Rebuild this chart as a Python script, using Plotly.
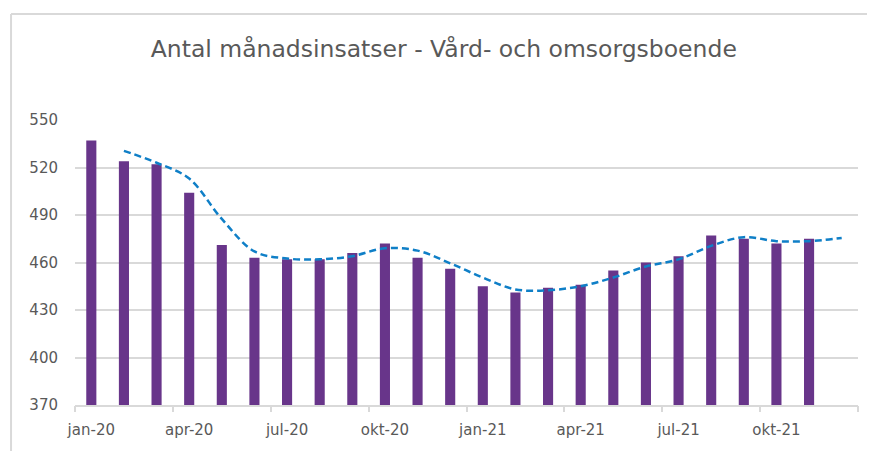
import plotly.graph_objects as go

months = [
    "jan-20", "feb-20", "mar-20", "apr-20", "maj-20", "jun-20",
    "jul-20", "aug-20", "sep-20", "okt-20", "nov-20", "dec-20",
    "jan-21", "feb-21", "mar-21", "apr-21", "maj-21", "jun-21",
    "jul-21", "aug-21", "sep-21", "okt-21", "nov-21", "dec-21",
]
insatser = [537, 524, 522, 504, 471, 463, 462, 462, 466, 472, 463, 456,
            445, 441, 444, 446, 455, 460, 464, 477, 475, 472, 475]
trend = [530.5, 523, 513, 487.5, 467, 462.5, 462, 464, 469, 467.5, 459.5,
         450.5, 443, 442.5, 445, 450.5, 457.5, 462, 470.5, 476, 473.5, 473.5, 475.5]
label_months = ["jan-20", "apr-20", "jul-20", "okt-20", "jan-21", "apr-21", "jul-21", "okt-21"]
y_ticks = [370, 400, 430, 460, 490, 520, 550]

FONT = "DejaVu Sans"
TEXT = "#595959"
GRID = "#d9d9d9"

fig = go.Figure()
fig.add_trace(go.Bar(x=months[:len(insatser)], y=insatser, marker_color="#68358a",
                     marker_line_width=0, name="Antal"))
fig.add_trace(go.Scatter(x=months[1:1 + len(trend)], y=trend, mode="lines",
                         line=dict(color="#0f7fc7", width=2.5, dash="7px,4px", shape="spline"),
                         name="trend"))
# empty helper trace so the tick-mark axis (boundaries every quarter) gets drawn
fig.add_trace(go.Scatter(x=[None], y=[None], xaxis="x2", mode="lines",
                         hoverinfo="skip", showlegend=False))

# page body adds an 8px offset, so the figure is laid out 8px smaller
fig.update_layout(
    width=867, height=443,
    margin=dict(l=67, r=17, t=112, b=43),
    paper_bgcolor="white", plot_bgcolor="white",
    showlegend=False,
    bargap=0.69,
    font=dict(family=FONT, color=TEXT, size=15),
    title=dict(text="Antal månadsinsatser - Vård- och omsorgsboende",
               x=0.471, xref="paper", xanchor="center", y=0.907, yanchor="middle",
               font=dict(family=FONT, size=23.5, color=TEXT)),
    xaxis=dict(type="category", categoryorder="array", categoryarray=months,
               range=[-0.5, 23.5], tickvals=label_months, ticks="",
               showgrid=False, showline=True, linecolor=GRID, linewidth=1.5,
               tickfont=dict(size=15, color=TEXT), ticklabelstandoff=10),
    xaxis2=dict(overlaying="x", range=[-0.5, 23.5], tickvals=[-0.5 + 3 * i for i in range(9)],
                showticklabels=False, ticks="outside", ticklen=6, tickcolor=GRID,
                tickwidth=1.5, showgrid=False, showline=False, zeroline=False,
                anchor="y", side="bottom"),
    yaxis=dict(range=[370, 550], tickvals=y_ticks, showgrid=True, gridcolor=GRID,
               gridwidth=1.5, zeroline=False, showline=False, ticks="",
               tickfont=dict(size=15, color=TEXT), ticklabelstandoff=16),
)

# chart-area frame: only the top and left edges fall inside the picture
frame = dict(type="line", xref="paper", yref="paper",
             line=dict(color=GRID, width=2), layer="below")
fig.add_shape(x0=-0.0817, x1=1.03, y0=1.3715, y1=1.3715, **frame)
fig.add_shape(x0=-0.0817, x1=-0.0817, y0=-0.2, y1=1.3715, **frame)

fig.write_html("out.html")
